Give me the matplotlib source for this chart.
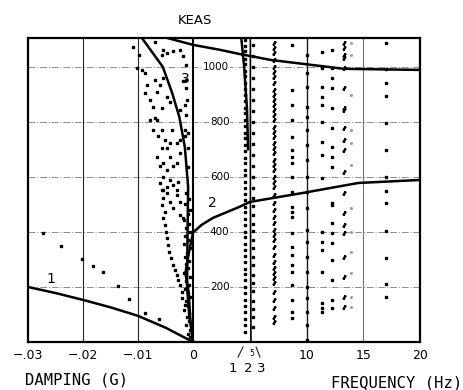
import numpy as np
import matplotlib
matplotlib.use('Agg')
import matplotlib.pyplot as plt

# one shared x axis: damping on the left, frequency (Hz) on the right
DAMP_SCALE = 485.0   # Hz-units per unit of damping g

# ---- curves (damping g, KEAS) ----
mode1_g = [-0.030, -0.025, -0.020, -0.015, -0.010, -0.005, 0.0]
mode1_v = [200, 178, 153, 126, 95, 52, 0]

mode2_g = [0.0, -0.0005, -0.0008, -0.0014, -0.0008, -0.0003, 0.0, 0.0015, 0.0036, 0.0084, 0.0103, 0.020, 0.030, 0.0412]
mode2_v = [0, 80, 180, 250, 320, 370, 398, 425, 451, 491, 509, 542, 578, 589]

mode3_g = [-0.0093, -0.0055, -0.0038, -0.0025, -0.0015, -0.0009, -0.0010, -0.0011, -0.0007, 0.0]
mode3_v = [1105, 1000, 905, 818, 709, 564, 400, 200, 100, 0]

top_g = [-0.0047, 0.0, 0.0049, 0.0084, 0.0142, 0.0274, 0.0412]
top_v = [1105, 1080, 1062, 1047, 1025, 993, 989]

# ---- frequency lines (Hz, KEAS) ----
freq2_f = [5.1, 5.05, 5.05]
freq2_v = [0, 550, 1105]
freq3_f = [4.25, 4.5, 4.75, 4.85]
freq3_v = [1105, 1000, 850, 700]

# ---- scattered damping points ----
damp_dots_g = [-.0109, -.0099, -.0102, -.0093, -.0087, -.0069, -.0054, -.0057, -.0036, -.0048,
               -.0024, -.0018, -.0084, -.0069, -.0060, -.0054, -.0078, -.0087, -.0072, -.0057,
               -.0066, -.0048, -.0042, -.0018, -.00145, -.0024, -.0069, -.0078, -.0066, -.0057,
               -.0072, -.0051, -.0063, -.0039, -.0042, -.0048, -.0057, -.0030, -.0024, -.00145,
               -.00145, -.0066, -.0054, -.0060, -.0042, -.0036, -.0048, -.0030, -.0024, -.0054,
               -.0042, -.0060, -.0048, -.0036, -.0027, -.0030, -.0054,
               -.0013, -.0012, -.0013, -.0011, -.0012, -.0010, -.0010, -.0009,
               -.0057, -.0048, -.0054, -.0042, -.0030, -.0024, -.0057, -.0051, -.0036, -.0024, -.0018,
               -.0054, -.0051, -.0049, -.0048, -.0045, -.0043, -.0041, -.0037, -.0033, -.0030,
               -.0027, -.0024, -.0021, -.0021, -.00145,
               -.0012, -.0008, -.0015, -.0006, -.0010, -.0016, -.0007, -.0012, -.0005, -.0014,
               -.0009, -.0017, -.0006, -.0011, -.0015, -.0007, -.0012, -.0009, -.0016, -.0006,
               -.0013, -.0008, -.0015, -.0010, -.0006, -.0013, -.0009, -.0016, -.0007, -.0011,
               -.0008, -.0013, -.0006, -.0009, -.0005,
               -.0273, -.0240, -.0202, -.0182, -.0164, -.0136, -.0116, -.0087, -.0062]
damp_dots_v = [1074, 1044, 995, 989, 977, 1092, 1062, 1044, 1056, 1050,
               1062, 1038, 935, 953, 935, 959, 880, 904, 856, 850,
               910, 892, 874, 947, 862, 844, 813, 807, 807, 771,
               771, 735, 747, 771, 722, 704, 704, 722, 735, 747,
               771, 674, 650, 638, 674, 638, 625, 650, 686, 601,
               589, 577, 565, 571, 583, 553, 553,
               1007, 953, 924, 880, 825, 760, 705, 636,
               553, 541, 523, 510, 535, 510, 498, 474, 486, 462, 450,
               450, 425, 401, 377, 353, 328, 304, 280, 262, 244,
               225, 207, 183, 159, 135,
               540, 520, 500, 480, 465, 445, 430, 415, 400, 385,
               370, 355, 340, 325, 310, 295, 282, 268, 252, 238,
               222, 208, 192, 178, 162, 148, 132, 118, 104, 90,
               75, 60, 45, 30, 18,
               396, 349, 302, 276, 254, 204, 156, 105, 84]

# ---- scattered frequency points (one column per mode) ----
col46_v = [38, 60, 84, 108, 131, 152, 178, 199, 224, 246, 266, 291, 313, 333, 358, 381, 400, 426,
           447, 471, 490, 516, 537, 561, 580, 606, 627, 651, 670, 696, 716, 741, 760, 786, 806,
           831, 850, 876, 897, 921, 940, 966, 986, 1011, 1030, 1056, 1077, 1097]
col52_v = [55, 90, 120, 150, 185, 215, 245, 280, 310, 340, 372, 405, 430, 462, 495, 525, 560,
           600, 640, 680, 720, 760, 800, 840, 880, 920, 960, 1000, 1040, 1080]
col71_v = [73, 91, 124, 153, 182, 215, 233, 251, 269, 291, 316, 345, 371, 389, 407, 433, 455,
           480, 505, 535, 564, 582, 600, 625, 644, 662, 687, 705, 724, 745, 764, 782, 807,
           825, 844, 862, 880, 898, 916, 942, 964, 982, 1000, 1025, 1051, 1069, 1087]
col87_v = [87, 109, 153, 207, 255, 280, 316, 345, 396, 455, 473, 491, 545, 600, 651, 673,
           698, 745, 807, 862, 916, 1080]
col100_v = [7, 62, 109, 160, 200, 255, 309, 364, 407, 487, 545, 600, 662, 716, 771, 818,
            855, 927, 978, 1044]
col114_v = [109, 124, 142, 255, 335, 364, 400, 596, 680, 727, 800, 862, 891, 927, 996, 1055]
col122_v = [124, 153, 225, 298, 360, 396, 433, 498, 505, 636, 673, 709, 778, 851, 924, 960,
            996, 1062]
col133_v = [127, 164, 236, 309, 396, 425, 469, 542, 618, 698, 735, 778, 844, 851, 924, 996,
            1033, 1044, 1069, 1087]
col139_v = [127, 164, 251, 327, 400, 487, 644, 724, 771, 898, 1044, 1087]
col170_v = [164, 211, 305, 404, 505, 549, 600, 698, 796, 895, 942, 993, 1087]
col_freqs = [4.6, 5.3, 7.1, 8.7, 10.0, 11.4, 12.2, 13.3, 13.9, 17.0]

y_ticks = [200, 400, 600, 800, 1000]
x_tick_labels = ['\u2212.03', '\u2212.02', '\u2212.01', '0', '10', '15', '20']


def dx(g):
    return np.asarray(g) * DAMP_SCALE


fig = plt.figure(figsize=(4.64, 3.9), dpi=100)
ax = fig.add_axes([28 / 464, 48 / 390, 392 / 464, 304 / 390])
ax.set_xlim(dx(-0.03), 20)
ax.set_ylim(0, 1105)

# grid
for v in y_ticks:
    ax.axhline(v, color='0.55', lw=0.7, ls=(0, (7, 2, 1, 2)), zorder=1)
for g in [-0.02, -0.01]:
    ax.axvline(dx(g), color='0.15', lw=0.8, zorder=1)
ax.axvline(10, color='0.1', lw=1.0, zorder=1)
ax.axvline(15, color='0.45', lw=0.8, zorder=1)
ax.axvline(0, color='k', lw=1.5, zorder=2)

for s in ax.spines.values():
    s.set_linewidth(1.6)

# y labels sit inside the plot next to the zero line
for v in y_ticks:
    ax.text(3.2, v, str(v), ha='right', va='center', fontsize=7.5, zorder=3,
            bbox=dict(fc='white', ec='none', pad=0.6))

# scattered points
dot = dict(ls='none', marker='s', ms=1.7, color='k', zorder=4)
ax.plot(dx(damp_dots_g), damp_dots_v, **dot)
cols = [col46_v, col52_v, col71_v, col87_v, col100_v, col114_v, col122_v, col133_v,
        col139_v, col170_v]
for f, vals in zip(col_freqs, cols):
    if f in (7.1, 13.3):
        ax.plot([f] * len(vals), vals, ls='none', marker=(2, 2, -30), ms=3.4,
                mew=1.5, color='k', zorder=4)
    elif f == 13.9:
        ax.plot([f] * len(vals), vals, ls='none', marker='s', ms=1.0, color='0.6', zorder=4)
    else:
        ax.plot([f] * len(vals), vals, **dot)

# curves
cw = dict(color='k', lw=1.8, zorder=5, solid_capstyle='round')
ax.plot(dx(mode1_g), mode1_v, **cw)
ax.plot(dx(mode2_g), mode2_v, **cw)
ax.plot(dx(mode3_g), mode3_v, **cw)
ax.plot(dx(top_g), top_v, **cw)
ax.plot(freq2_f, freq2_v, color='k', lw=1.2, zorder=5)
ax.plot(freq3_f, freq3_v, **cw)

ax.text(-12.5, 229, '1', fontsize=10, ha='center', va='center', zorder=6)
ax.text(1.7, 505, '2', fontsize=10, ha='center', va='center', zorder=6,
        bbox=dict(fc='white', ec='none', pad=0.3))
ax.text(-0.7, 956, '3', fontsize=10, ha='center', va='center', zorder=6)

# ticks
ax.set_xticks([dx(-0.03), dx(-0.02), dx(-0.01), 0, 10, 15, 20], x_tick_labels, fontsize=9)
ax.set_yticks([])
ax.tick_params(axis='x', length=0, pad=5)

# mode pointers under the axis
ax.plot([3.96, 4.4], [-55, -18], color='k', lw=0.7, clip_on=False)
ax.plot([5.55, 5.9], [-18, -55], color='k', lw=0.7, clip_on=False)
ax.text(5.2, -40, '5', fontsize=5.5, ha='center', va='center')
for f, lab in [(3.5, '1'), (4.9, '2'), (6.0, '3')]:
    ax.text(f, -98, lab, fontsize=9.5, ha='center', va='center', clip_on=False)

fig.text(195 / 464, 1 - 20 / 390, 'KEAS', ha='center', va='center', fontsize=9.5)
fig.text(25 / 464, 1 - 380 / 390, 'DAMPING (G)', ha='left', va='center',
         family='DejaVu Sans Mono', fontsize=11.2)
fig.text(462 / 464, 1 - 383 / 390, 'FREQUENCY (Hz)', ha='right', va='center',
         family='DejaVu Sans Mono', fontsize=11.2)

fig.savefig('out.png', dpi=100)
